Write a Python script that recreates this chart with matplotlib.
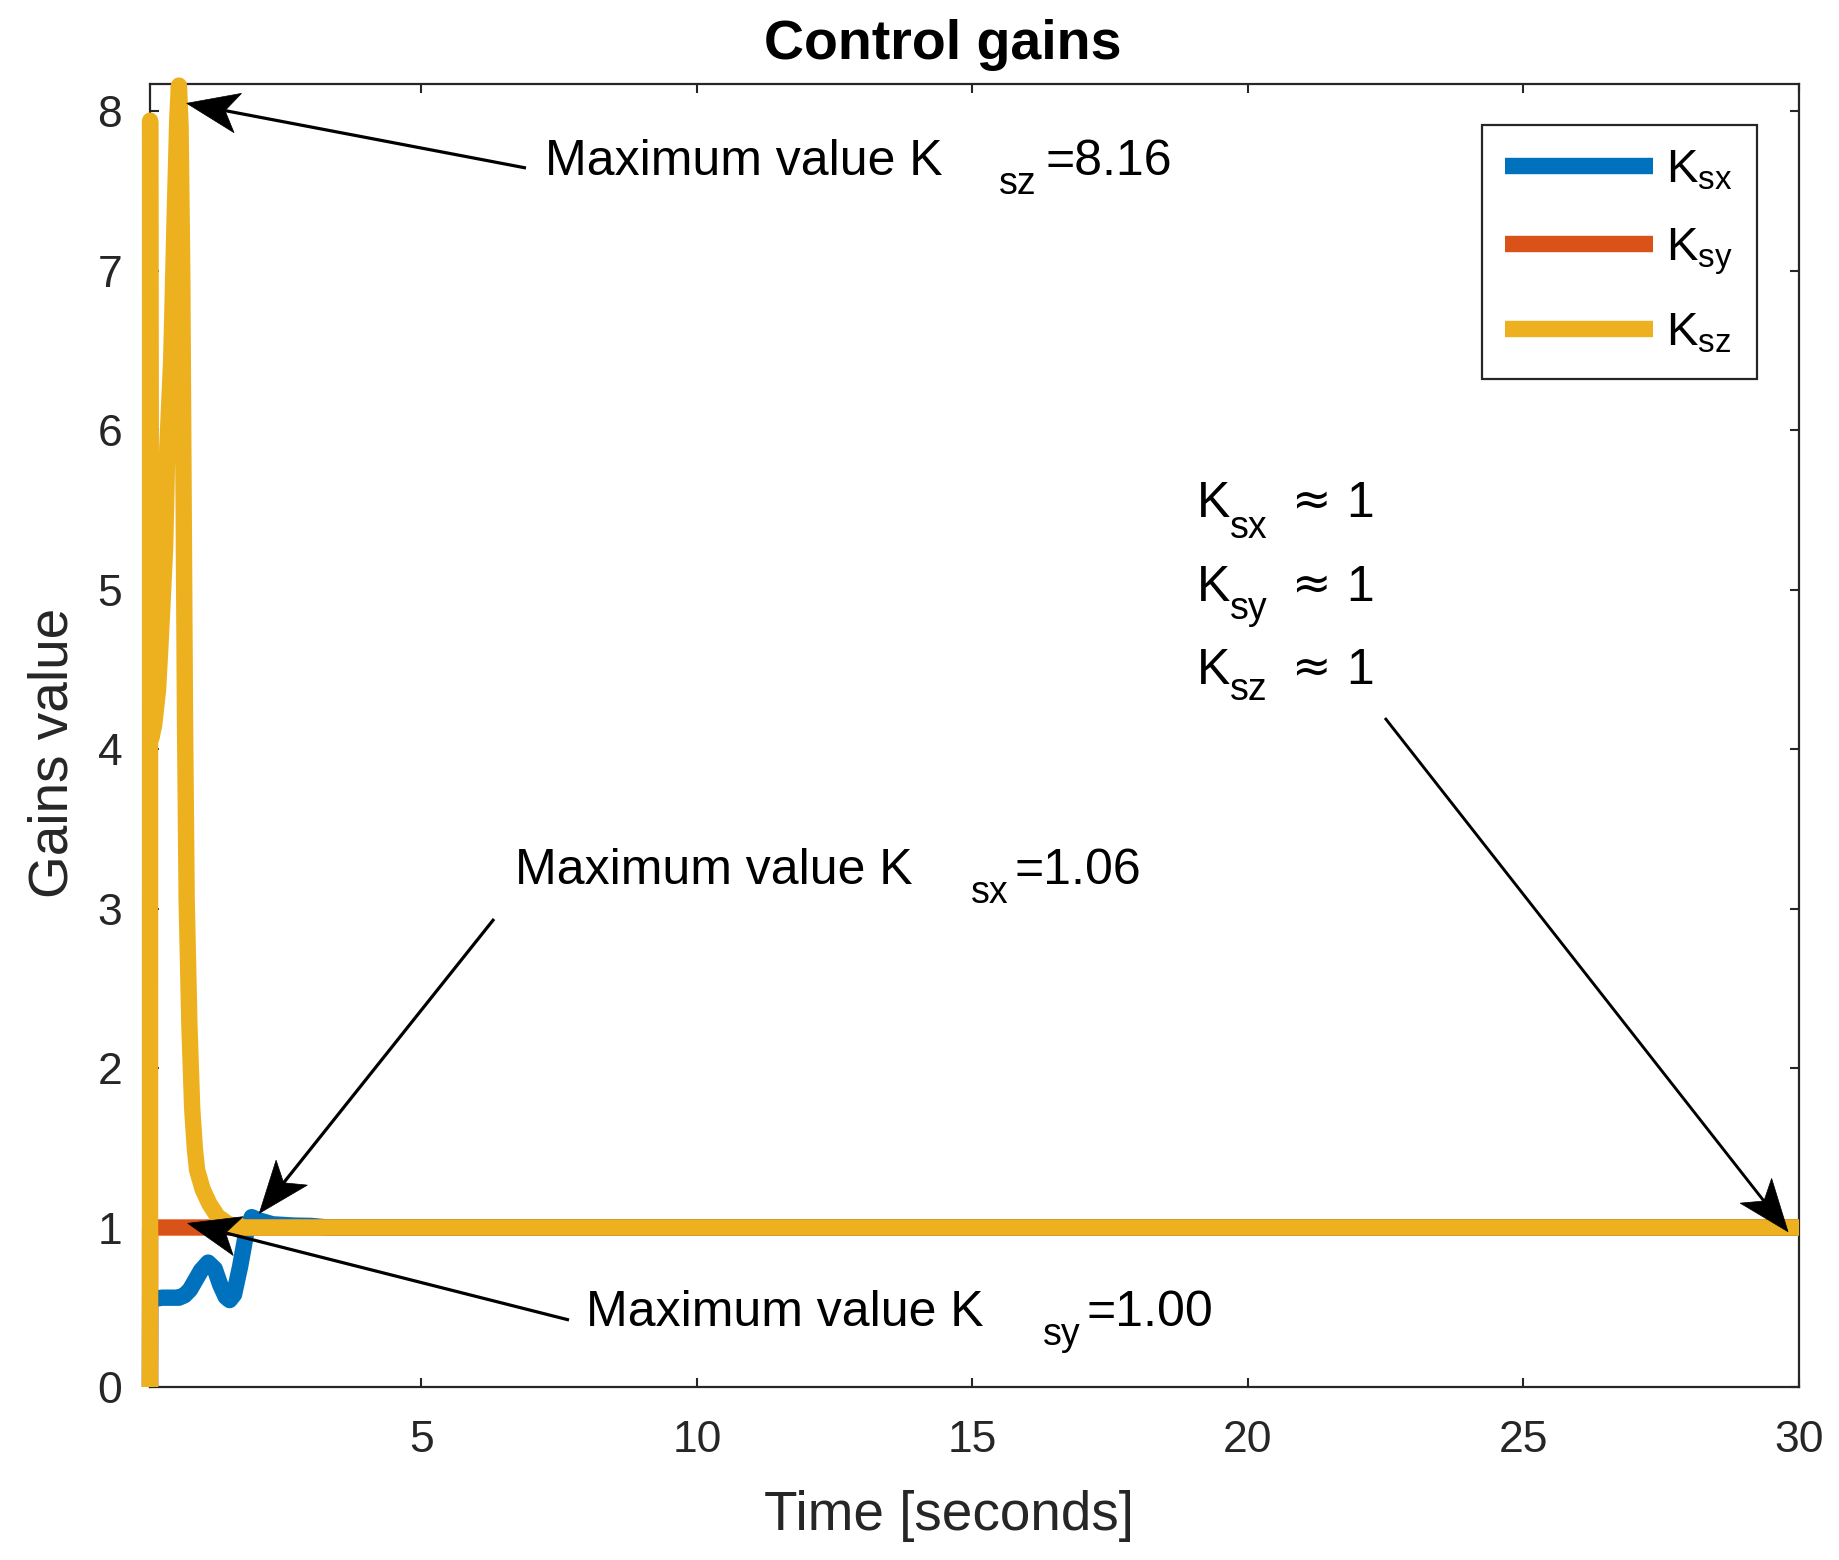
import matplotlib
matplotlib.use("Agg")
import matplotlib.pyplot as plt
from matplotlib.lines import Line2D
from matplotlib.patches import Polygon
import numpy as np

# ---------------- data ----------------
t_ksx = [0.075, 0.078, 0.3, 0.6, 0.7, 0.8, 0.9, 1.0, 1.13, 1.25, 1.35, 1.45, 1.52,
         1.6, 1.71, 1.82, 1.92, 2.05, 2.3, 2.7, 3.0, 3.3, 30.0]
k_sx = [0.0, 0.55, 0.56, 0.56, 0.575, 0.61, 0.67, 0.73, 0.78, 0.74, 0.64, 0.565, 0.545,
        0.58, 0.755, 0.965, 1.065, 1.045, 1.02, 1.012, 1.01, 1.0, 1.0]

t_ksy = [0.075, 0.077, 30.0]
k_sy = [0.0, 1.0, 1.0]

t_ksz = [0.075, 0.077, 0.085, 0.1, 0.15, 0.22, 0.26, 0.30, 0.35, 0.39, 0.46, 0.52, 0.57,
         0.60, 0.63, 0.66, 0.69, 0.71, 0.74, 0.79, 0.84, 0.89, 0.93, 1.03, 1.15, 1.3,
         1.5, 1.8, 30.0]
k_sz = [0.0, 7.94, 5.5, 4.07, 4.15, 4.37, 4.62, 4.9, 5.27, 5.9, 6.44, 7.3, 7.95,
        8.16, 7.9, 7.0, 5.3, 4.2, 3.06, 2.27, 1.75, 1.49, 1.36, 1.24, 1.15, 1.07,
        1.02, 1.0, 1.0]

series_labels = ["K$_{sx}$", "K$_{sy}$", "K$_{sz}$"]
series_colors = ["#0072BD", "#D95319", "#EDB120"]

x_ticks = [5, 10, 15, 20, 25, 30]
y_ticks = [0, 1, 2, 3, 4, 5, 6, 7, 8]

max_ksz = 8.16
max_ksx = 1.06
max_ksy = 1.00
steady_value = 1

# ---------------- style ----------------
plt.rcParams["font.family"] = ["Liberation Sans", "DejaVu Sans"]
plt.rcParams["mathtext.fontset"] = "custom"
plt.rcParams["mathtext.rm"] = "Liberation Sans"
plt.rcParams["mathtext.it"] = "Liberation Sans:italic"
plt.rcParams["mathtext.default"] = "regular"

W, H = 1840, 1560
DARK = "#262626"
fig = plt.figure(figsize=(W / 100, H / 100), dpi=100)
ax = fig.add_axes([150 / W, 1 - 1387 / H, (1799 - 150) / W, (1387 - 84) / H])

lines = []
for t, v, c, lab in zip([t_ksx, t_ksy, t_ksz], [k_sx, k_sy, k_sz], series_colors, series_labels):
    ln, = ax.plot(t, v, color=c, lw=11.8, solid_joinstyle="round", solid_capstyle="butt",
                  clip_on=False, zorder=3, label=lab)
    lines.append(ln)

ax.set_xlim(0.075, 30)
ax.set_ylim(0, 8.17)
ax.set_xticks(x_ticks)
ax.set_yticks(y_ticks)
ax.tick_params(direction="in", length=6.5, width=1.5, colors=DARK, labelsize=32,
               top=True, right=True, pad=20)
ax.tick_params(axis="x", pad=24)
for s in ax.spines.values():
    s.set_color(DARK)
    s.set_linewidth(1.6)

ax.set_title("Control gains", fontsize=40, fontweight="bold", x=(943 - 150) / 1649,
             y=(1387 - 59) / 1303, pad=0, va="baseline")
ax.set_xlabel("Time [seconds]", fontsize=39.5, color=DARK)
ax.xaxis.set_label_coords((949 - 150) / 1649, (1387 - 1530) / 1303)
ax.xaxis.label.set_va("baseline")
ax.set_ylabel("Gains value", fontsize=39.5, color=DARK)
ax.yaxis.set_label_coords((68 - 150) / 1649, (1387 - 753) / 1303)
ax.yaxis.label.set_va("baseline")

LFS = 34
lpx = LFS * 100 / 72
leg = ax.legend(handles=lines, loc="upper right",
                bbox_to_anchor=(1757 / W, 1 - 125 / H), bbox_transform=fig.transFigure,
                borderaxespad=0, fontsize=LFS, handlelength=148 / lpx, handletextpad=13 / lpx,
                borderpad=0.5, labelspacing=0.72, fancybox=False, framealpha=1)
leg.get_frame().set_edgecolor(DARK)
leg.get_frame().set_linewidth(1.6)


# ---------------- annotations (figure pixel positions) ----------------
def ftext(px, py, s, size, **kw):
    fig.text(px / W, 1 - py / H, s, fontsize=size, ha="left", va="baseline", color="black", **kw)


def arrow(tail, tip, lw=2.3, L=52, hw=20, notch=39):
    tx, ty = tip
    sx, sy = tail
    d = np.hypot(sx - tx, sy - ty)
    ux, uy = (sx - tx) / d, (sy - ty) / d
    px, py = -uy, ux
    nx, ny = tx + ux * notch, ty + uy * notch
    c1 = (tx + ux * L + px * hw, ty + uy * L + py * hw)
    c2 = (tx + ux * L - px * hw, ty + uy * L - py * hw)
    fig.add_artist(Line2D([sx / W, nx / W], [1 - sy / H, 1 - ny / H], lw=lw, color="black",
                          transform=fig.transFigure, solid_capstyle="butt"))
    pts = [(tx, ty), c1, (nx, ny), c2]
    fig.add_artist(Polygon([(x / W, 1 - y / H) for x, y in pts], closed=True,
                           transform=fig.transFigure, fc="black", ec="black", lw=0.5))


MAIN, SUB = 36, 27
ftext(545, 175, "Maximum value K", MAIN)
ftext(999, 194, "sz", SUB)
ftext(1046, 175, f"={max_ksz:.2f}", MAIN)
arrow((526, 168), (186.7, 103.3))

ftext(515, 884, "Maximum value K", MAIN)
ftext(971, 903, "sx", SUB)
ftext(1015, 884, f"={max_ksx:.2f}", MAIN)
arrow((494, 919), (259.3, 1213.3))

ftext(586, 1326, "Maximum value K", MAIN)
ftext(1043, 1345, "sy", SUB)
ftext(1087, 1326, f"={max_ksy:.2f}", MAIN)
arrow((569, 1320), (187.7, 1223.3))

for (kb, sb), sub in zip([(517, 538), (601, 619), (684, 700)], ["sx", "sy", "sz"]):
    ftext(1197, kb, "K", MAIN)
    ftext(1230, sb, sub, SUB)
    ftext(1292, kb - 2, "\u2248", 34, family=["DejaVu Sans"])
    ftext(1346, kb, f"{steady_value}", MAIN)
arrow((1385, 718), (1788, 1231.7), lw=2.1)

fig.savefig("out.png", dpi=100)
